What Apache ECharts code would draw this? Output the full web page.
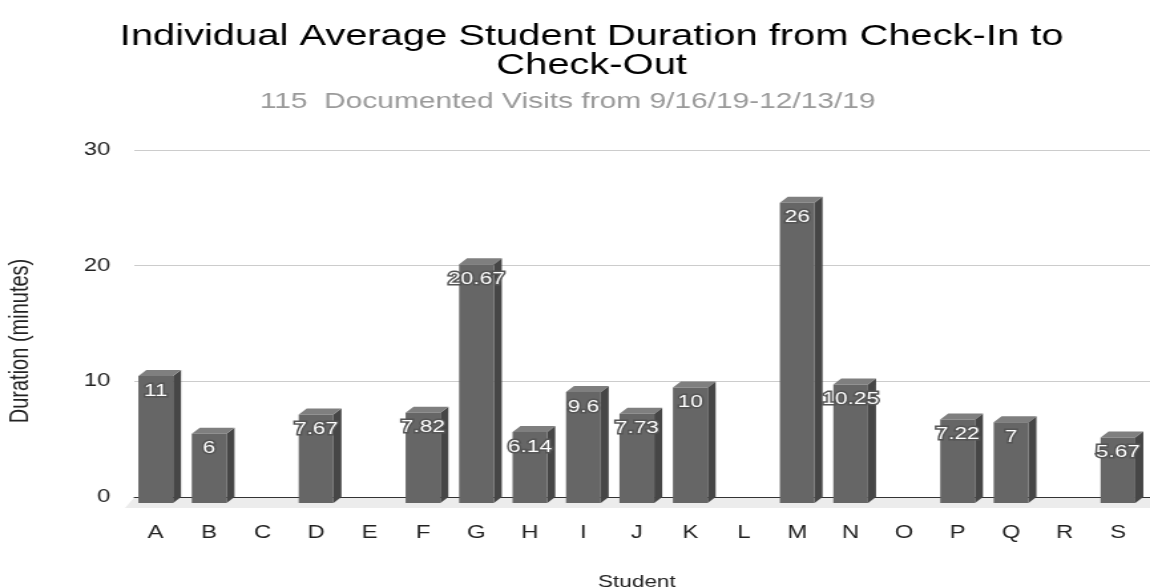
<!DOCTYPE html>
<html>
<head>
<meta charset="utf-8">
<title>Individual Average Student Duration</title>
<script src="https://cdn.jsdelivr.net/npm/echarts@6/dist/echarts.min.js"></script>
<style>
  html, body { margin: 0; padding: 0; background: #fff; overflow: hidden; }
  /* the chart is laid out on a narrower canvas and widened to the page */
  #chart { width: 865px; height: 588px; transform: scaleX(1.3295); transform-origin: 0 0; }
</style>
</head>
<body>
<div id="chart"></div>
<script>
// Students and their average visit length in minutes (null = no recorded visits)
const students = ['A', 'B', 'C', 'D', 'E', 'F', 'G', 'H', 'I', 'J', 'K', 'L', 'M', 'N', 'O', 'P', 'Q', 'R', 'S'];
const durations = [11, 6, null, 7.67, null, 7.82, 20.67, 6.14, 9.6, 7.73, 10, null, 26, 10.25, null, 7.22, 7, null, 5.67];
const yTicks = [0, 10, 20, 30];

const titleText = 'Individual Average Student Duration from Check-In to\nCheck-Out';
const subtitleText = '115  Documented Visits from 9/16/19-12/13/19';
const xAxisTitle = 'Student';
const yAxisTitle = 'Duration (minutes)';

const FONT = '"Liberation Sans", Arial, Helvetica, sans-serif';
const DEPTH_X = 6;   // horizontal depth of the boxes
const DEPTH_Y = 6;   // vertical depth of the boxes
const FRONT = '#666666', TOP = '#7f7f7f', SIDE = '#464646';

const chart = echarts.init(document.getElementById('chart'));

// Pseudo 3-D box for each bar, with its value written near the top
function renderBox(params, api) {
  const v = api.value(1);
  if (v == null || isNaN(v)) return null;
  const base = api.coord([api.value(0), 0]);
  const top = api.coord([api.value(0), v]);
  const w = api.size([1, 0])[0] * 0.65;
  const xl = base[0] - w / 2, xr = base[0] + w / 2;
  const y0 = base[1], y1 = top[1];
  return {
    type: 'group',
    children: [
      { type: 'polygon', shape: { points: [[xr, y1], [xr + DEPTH_X, y1 - DEPTH_Y], [xr + DEPTH_X, y0 - DEPTH_Y], [xr, y0]] },
        style: { fill: SIDE } },
      { type: 'polygon', shape: { points: [[xl, y1], [xl + DEPTH_X, y1 - DEPTH_Y], [xr + DEPTH_X, y1 - DEPTH_Y], [xr, y1]] },
        style: { fill: TOP } },
      { type: 'rect', shape: { x: xl, y: y1, width: w, height: y0 - y1 }, style: { fill: FRONT } },
      { type: 'text', x: base[0], y: y1 + 15,
        style: { text: String(v), align: 'center', verticalAlign: 'middle', fontSize: 17, fontFamily: FONT,
                 fill: '#ffffff', stroke: '#555555', lineWidth: 3 } }
    ]
  };
}

// Light floor plane under the bars
function renderFloor(params, api) {
  const first = api.coord([0, 0]);
  const last = api.coord([students.length - 1, 0]);
  const band = api.size([1, 0])[0];
  const x0 = first[0] - band / 2, x1 = last[0] + band / 2, y0 = first[1];
  return {
    type: 'polygon',
    shape: { points: [[x0 - 3, y0 + 5], [x1 + 10, y0 + 5], [x1 + 10, y0 - 5.5], [x0 + 4, y0 - 5.5]] },
    style: { fill: '#ececec' }
  };
}

chart.setOption({
  animation: false,
  backgroundColor: '#ffffff',
  title: [
    { text: titleText, left: 440, top: 17, textAlign: 'center',
      textStyle: { fontSize: 30, lineHeight: 29, fontWeight: 'normal', color: '#000', fontFamily: FONT } },
    { text: subtitleText, left: 422, top: 85, textAlign: 'center',
      textStyle: { fontSize: 22.5, lineHeight: 24, fontWeight: 'normal', color: '#9a9a9a', fontFamily: FONT } }
  ],
  graphic: [
    { type: 'text', x: 15, y: 341, rotation: Math.PI / 2,
      style: { text: yAxisTitle, align: 'center', verticalAlign: 'middle', fontSize: 20,
               fill: '#222', fontFamily: FONT } }
  ],
  grid: [
    { left: 97, right: 4, top: 156.5, bottom: 85, outerBoundsMode: 'none' },   // front plane (bars)
    { left: 101, right: 0, top: 150, bottom: 91, outerBoundsMode: 'none' }     // back wall (gridlines)
  ],
  xAxis: [
    { type: 'category', gridIndex: 0, data: students, boundaryGap: true,
      axisLine: { show: false }, axisTick: { show: false },
      axisLabel: { margin: 21, fontSize: 18, color: '#222', fontFamily: FONT },
      name: xAxisTitle, nameLocation: 'middle', nameGap: 71,
      nameTextStyle: { fontSize: 17, color: '#222', fontFamily: FONT } },
    { type: 'category', gridIndex: 1, data: students, z: 1,
      axisLine: { show: true, lineStyle: { color: '#333', width: 1 } },
      axisTick: { show: false }, axisLabel: { show: false } }
  ],
  yAxis: [
    { type: 'value', gridIndex: 0, min: 0, max: 30, interval: 10, show: false },
    { type: 'value', gridIndex: 1, min: yTicks[0], max: yTicks[yTicks.length - 1], interval: 10,
      axisLine: { show: false }, axisTick: { show: false },
      splitLine: { lineStyle: { color: '#cccccc', width: 1 } },
      axisLabel: { margin: 18, fontSize: 18, color: '#222', fontFamily: FONT } }
  ],
  series: [
    { type: 'custom', xAxisIndex: 0, yAxisIndex: 0, z: 0, silent: true,
      renderItem: renderFloor, data: [[0, 0]] },
    { type: 'custom', xAxisIndex: 0, yAxisIndex: 0, z: 3,
      renderItem: renderBox,
      data: durations.map((d, i) => [i, d]) }
  ]
});
</script>
</body>
</html>
